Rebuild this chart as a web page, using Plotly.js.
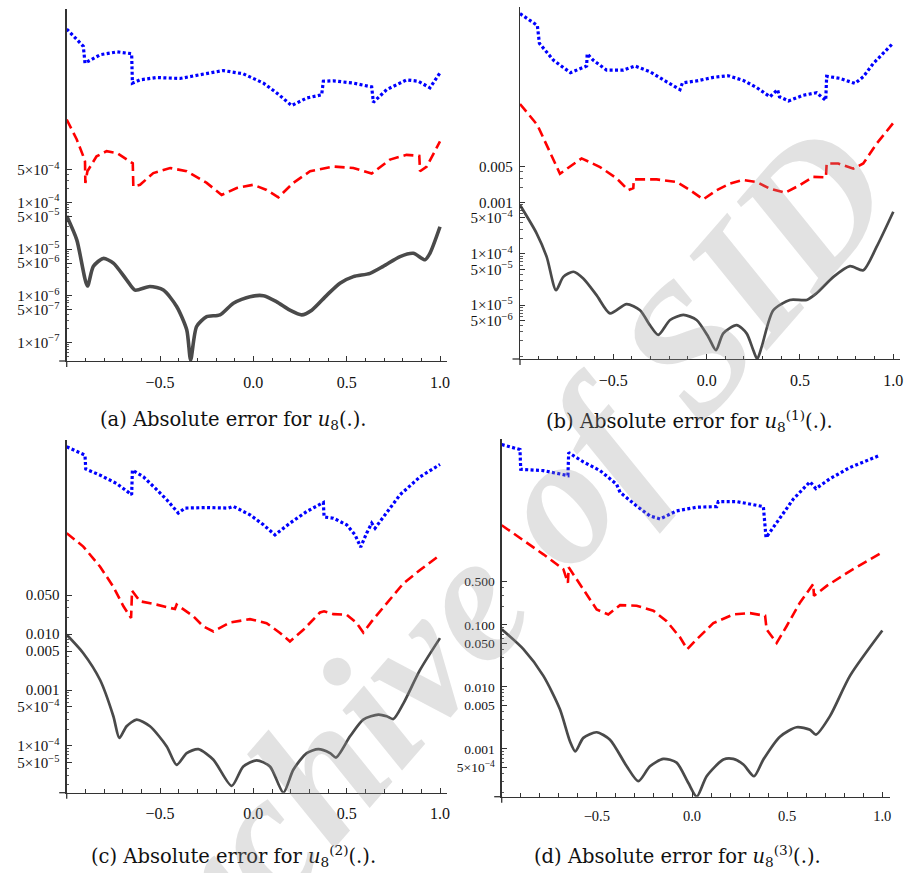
<!DOCTYPE html>
<html><head><meta charset="utf-8">
<script src="https://cdn.plot.ly/plotly-3.0.1.min.js"></script>
<style>html,body{margin:0;padding:0;background:#fff}#chart{width:904px;height:873px}</style>
</head><body><div id="chart"></div>
<script>
// ---------- Panel (a): absolute error for u8 ----------
const aBlueX = [-1,-0.911,-0.902,-0.889,-0.82,-0.73,-0.652,-0.648,-0.607,-0.518,-0.393,-0.286,-0.161,-0.054,0.054,0.125,0.205,0.286,0.366,0.375,0.429,0.536,0.634,0.643,0.714,0.821,0.884,0.946,1];
const aBlueY = [0.525,0.224,0.0977,0.105,0.148,0.170,0.155,0.0363,0.0427,0.0479,0.0457,0.0550,0.0676,0.0575,0.0363,0.0224,0.0120,0.0174,0.0204,0.0398,0.0407,0.0363,0.0302,0.0141,0.0263,0.0427,0.0398,0.0288,0.0603];
const aRedX = [-1,-0.946,-0.911,-0.902,-0.900,-0.889,-0.84,-0.786,-0.73,-0.646,-0.643,-0.607,-0.536,-0.446,-0.357,-0.25,-0.17,-0.089,0,0.071,0.134,0.214,0.304,0.429,0.536,0.634,0.732,0.821,0.889,0.893,0.929,1];
const aRedY = [6.03e-3,2.24e-3,9.77e-4,7.59e-4,2.63e-4,4.68e-4,9.77e-4,1.26e-3,1.15e-3,6.92e-4,2.19e-4,2.40e-4,4.27e-4,5.50e-4,4.68e-4,2.63e-4,1.45e-4,2.04e-4,2.40e-4,1.86e-4,1.29e-4,2.63e-4,4.68e-4,5.89e-4,5.50e-4,4.17e-4,8.32e-4,1.05e-3,1.00e-3,4.68e-4,5.89e-4,2.04e-3];
const aGrayX = [-1,-0.946,-0.889,-0.857,-0.804,-0.75,-0.679,-0.634,-0.554,-0.482,-0.411,-0.357,-0.336,-0.304,-0.25,-0.179,-0.107,-0.018,0.054,0.125,0.196,0.259,0.313,0.393,0.464,0.536,0.625,0.696,0.786,0.857,0.92,0.946,1];
const aGrayY = [5.13e-5,1.58e-5,1.62e-6,4.27e-6,6.31e-6,5.01e-6,2.19e-6,1.32e-6,1.58e-6,1.32e-6,5.89e-7,1.86e-7,4.17e-8,2.19e-7,3.55e-7,3.89e-7,6.92e-7,9.55e-7,1.00e-6,7.41e-7,4.90e-7,3.89e-7,4.90e-7,1.02e-6,1.86e-6,2.57e-6,3.02e-6,4.27e-6,6.92e-6,8.13e-6,5.89e-6,8.13e-6,3.02e-5];
const aTickVals = [1e-7,5e-7,1e-6,5e-6,1e-5,5e-5,1e-4,5e-4];
const aTickText = ["1×10<sup>−7</sup>","5×10<sup>−7</sup>","1×10<sup>−6</sup>","5×10<sup>−6</sup>","1×10<sup>−5</sup>","5×10<sup>−5</sup>","1×10<sup>−4</sup>","5×10<sup>−4</sup>"];

// ---------- Panel (b): absolute error for u8^(1) ----------
const bBlueX = [-1,-0.907,-0.896,-0.82,-0.73,-0.66,-0.643,-0.640,-0.607,-0.536,-0.446,-0.384,-0.304,-0.214,-0.143,-0.13,-0.054,0.036,0.116,0.196,0.268,0.339,0.38,0.39,0.438,0.518,0.589,0.638,0.643,0.714,0.795,0.839,0.893,1];
const bBlueY = [4.79,2.82,1.26,0.589,0.339,0.437,0.457,0.794,0.589,0.380,0.380,0.457,0.355,0.224,0.158,0.214,0.234,0.275,0.295,0.240,0.174,0.115,0.158,0.115,0.0955,0.123,0.138,0.0977,0.288,0.263,0.209,0.282,0.513,1.29];
const bRedX = [-1,-0.907,-0.786,-0.67,-0.571,-0.482,-0.42,-0.393,-0.39,-0.268,-0.161,-0.089,-0.018,0.054,0.125,0.196,0.268,0.339,0.42,0.5,0.571,0.639,0.643,0.705,0.786,0.839,0.911,1];
const bRedY = [8.32e-2,3.24e-2,3.63e-3,7.24e-3,4.90e-3,2.95e-3,1.74e-3,1.91e-3,2.82e-3,2.82e-3,2.51e-3,1.74e-3,1.15e-3,1.74e-3,2.34e-3,2.75e-3,2.51e-3,1.86e-3,1.55e-3,2.19e-3,3.16e-3,3.09e-3,5.75e-3,5.75e-3,4.57e-3,5.75e-3,1.41e-2,3.55e-2];
const bGrayX = [-1,-0.911,-0.857,-0.807,-0.768,-0.714,-0.661,-0.589,-0.518,-0.429,-0.357,-0.304,-0.259,-0.196,-0.125,-0.054,0.009,0.05,0.089,0.161,0.214,0.25,0.271,0.295,0.357,0.446,0.536,0.589,0.679,0.768,0.839,0.911,1];
const bGrayY = [8.91e-4,2.51e-4,8.71e-5,1.95e-5,3.55e-5,4.47e-5,3.31e-5,1.55e-5,6.92e-6,1.05e-5,7.94e-6,4.07e-6,2.63e-6,5.13e-6,6.46e-6,5.13e-6,2.40e-6,1.32e-6,2.82e-6,4.07e-6,2.82e-6,1.32e-6,8.91e-7,1.55e-6,7.94e-6,1.26e-5,1.26e-5,1.70e-5,3.55e-5,5.75e-5,4.79e-5,1.38e-4,6.61e-4];
const bTickVals = [5e-6,1e-5,5e-5,1e-4,5e-4,0.001,0.005];
const bTickText = ["5×10<sup>−6</sup>","1×10<sup>−5</sup>","5×10<sup>−5</sup>","1×10<sup>−4</sup>","5×10<sup>−4</sup>","0.001","0.005"];

// ---------- Panel (c): absolute error for u8^(2) ----------
const cBlueX = [-1,-0.902,-0.898,-0.821,-0.732,-0.652,-0.648,-0.589,-0.518,-0.464,-0.402,-0.366,-0.25,-0.134,-0.107,-0.018,0.054,0.116,0.196,0.286,0.375,0.379,0.429,0.5,0.545,0.575,0.607,0.634,0.652,0.714,0.786,0.893,1];
const cBlueY = [22.9,16.2,9.12,7.08,5.01,3.16,8.71,6.61,3.89,2.57,1.48,1.82,1.86,1.82,1.95,1.38,0.912,0.603,0.977,1.58,2.29,1.26,1.20,0.912,0.603,0.363,0.646,0.977,0.794,1.48,3.16,6.61,11.0];
const cRedX = [-1,-0.911,-0.821,-0.75,-0.696,-0.655,-0.650,-0.607,-0.518,-0.42,-0.411,-0.321,-0.268,-0.214,-0.125,-0.018,0.071,0.143,0.196,0.268,0.357,0.379,0.429,0.5,0.554,0.589,0.634,0.714,0.804,0.893,1];
const cRedY = [0.646,0.372,0.162,7.08e-2,3.16e-2,1.95e-2,6.03e-2,3.89e-2,3.39e-2,2.82e-2,3.39e-2,2.09e-2,1.38e-2,1.12e-2,1.62e-2,1.86e-2,1.58e-2,1.05e-2,7.41e-3,1.20e-2,2.45e-2,2.57e-2,2.29e-2,2.24e-2,1.58e-2,1.07e-2,1.70e-2,3.63e-2,8.13e-2,0.141,0.263];
const cGrayX = [-1,-0.911,-0.821,-0.75,-0.718,-0.679,-0.625,-0.554,-0.464,-0.411,-0.357,-0.295,-0.214,-0.116,-0.054,0.018,0.089,0.161,0.214,0.286,0.348,0.411,0.443,0.518,0.589,0.67,0.714,0.75,0.804,0.893,1];
const cGrayY = [9.77e-3,4.57e-3,1.51e-3,3.39e-4,1.38e-4,2.24e-4,2.95e-4,2.24e-4,9.77e-5,4.57e-5,7.41e-5,8.71e-5,5.62e-5,1.91e-5,4.27e-5,5.50e-5,4.27e-5,1.45e-5,3.72e-5,7.41e-5,8.71e-5,7.41e-5,6.17e-5,1.48e-4,2.95e-4,3.63e-4,3.39e-4,3.02e-4,5.75e-4,2.29e-3,8.51e-3];
const cTickVals = [5e-5,1e-4,5e-4,0.001,0.005,0.010,0.050];
const cTickText = ["5×10<sup>−5</sup>","1×10<sup>−4</sup>","5×10<sup>−4</sup>","0.001","0.005","0.010","0.050"];

// ---------- Panel (d): absolute error for u8^(3) ----------
const dBlueX = [-1,-0.904,-0.900,-0.781,-0.652,-0.648,-0.571,-0.483,-0.396,-0.378,-0.291,-0.221,-0.168,-0.081,0.025,0.13,0.138,0.235,0.375,0.389,0.445,0.532,0.62,0.651,0.725,0.83,0.982];
const dBlueY = [81.3,67.6,32.4,30.9,25.7,60.3,42.7,30.9,18.6,13.8,8.32,5.75,5.13,6.92,7.94,8.13,9.77,9.77,8.13,2.57,4.47,10.7,20.4,15.8,22.9,34.7,53.7];
const dRedX = [-1,-0.904,-0.781,-0.676,-0.652,-0.648,-0.571,-0.501,-0.44,-0.378,-0.291,-0.203,-0.133,-0.063,-0.025,0.025,0.112,0.217,0.305,0.384,0.392,0.445,0.497,0.567,0.637,0.641,0.708,0.83,1];
const dRedY = [4.07,2.57,1.38,0.794,0.479,0.851,0.380,0.178,0.148,0.209,0.204,0.170,0.115,0.0631,0.0407,0.0589,0.107,0.148,0.155,0.141,0.0851,0.0513,0.0955,0.229,0.457,0.295,0.427,0.741,1.48];
const dGrayX = [-1,-0.886,-0.781,-0.694,-0.641,-0.613,-0.571,-0.501,-0.431,-0.343,-0.282,-0.221,-0.151,-0.081,-0.019,0.025,0.077,0.165,0.217,0.27,0.326,0.375,0.462,0.55,0.62,0.651,0.725,0.83,1];
const dGrayY = [8.51e-2,4.07e-2,1.51e-2,4.37e-3,1.32e-3,9.12e-4,1.51e-3,1.86e-3,1.41e-3,5.25e-4,3.02e-4,5.25e-4,6.92e-4,6.03e-4,2.82e-4,1.70e-4,3.63e-4,6.76e-4,6.92e-4,5.62e-4,3.63e-4,6.76e-4,1.58e-3,2.24e-3,2.04e-3,1.70e-3,3.39e-3,1.51e-2,8.13e-2];
const dTickVals = [5e-4,0.001,0.005,0.010,0.050,0.100,0.500];
const dTickText = ["5×10<sup>−4</sup>","0.001","0.005","0.010","0.050","0.100","0.500"];

const xTickVals = [-0.5,0,0.5,1];
const xTickText = ["−0.5","0.0","0.5","1.0"];

const captions = [
  "(a) Absolute error for <i>u</i><sub>8</sub>(.).",
  "(b) Absolute error for <i>u</i><sub>8</sub><sup>(1)</sup>(.).",
  "(c) Absolute error for <i>u</i><sub>8</sub><sup>(2)</sup>(.).",
  "(d) Absolute error for <i>u</i><sub>8</sub><sup>(3)</sup>(.)."
];
const watermark = "Archive of SID";

// ---------- layout geometry (pixels) ----------
const W = 904, H = 873;
const px = v => v / W, py = v => 1 - v / H;
const panels = [
  {bx:aBlueX,by:aBlueY,rx:aRedX,ry:aRedY,gx:aGrayX,gy:aGrayY,tv:aTickVals,tt:aTickText,
   xl:66.7,x1:440,xr:447,yt:9,yb:361,yr:[-7.40,0.15],fs:15,xfs:16,gw:3.6,cap:[233,420]},
  {bx:bBlueX,by:bBlueY,rx:bRedX,ry:bRedY,gx:bGrayX,gy:bGrayY,tv:bTickVals,tt:bTickText,
   xl:520,x1:893.3,xr:900,yt:7,yb:359,yr:[-6.05,0.81],fs:15,xfs:16,gw:2.7,cap:[689,421]},
  {bx:cBlueX,by:cBlueY,rx:cRedX,ry:cRedY,gx:cGrayX,gy:cGrayY,tv:cTickVals,tt:cTickText,
   xl:66.7,x1:440,xr:447,yt:440,yb:792.7,yr:[-4.84,1.48],fs:15,xfs:16,gw:2.7,cap:[233,856]},
  {bx:dBlueX,by:dBlueY,rx:dRedX,ry:dRedY,gx:dGrayX,gy:dGrayY,tv:dTickVals,tt:dTickText,
   xl:501.7,x1:882.3,xr:890,yt:439,yb:796.7,yr:[-3.77,2.00],fs:13.5,xfs:14.5,gw:2.7,cap:[677,856]}
];

function minorVals(lo, maxMajor, majors){
  const out = [];
  for (let d = Math.floor(lo); d <= Math.ceil(Math.log10(maxMajor)); d++){
    for (let m = 1; m <= 9; m++){
      const v = m * Math.pow(10, d);
      if (Math.log10(v) < lo || v > maxMajor * 1.0001) continue;
      if (majors.some(t => Math.abs(t - v) / v < 1e-6)) continue;
      out.push(v);
    }
  }
  return out;
}

const traces = [], layout = {
  width: W, height: H, margin:{l:0,r:0,t:0,b:0},
  paper_bgcolor:'#fff', plot_bgcolor:'rgba(0,0,0,0)', showlegend:false,
  font:{family:'Liberation Serif, Times New Roman, serif', color:'#000'},
  shapes:[], annotations:[]
};

panels.forEach((p, i) => {
  const n = i === 0 ? '' : String(i + 1);
  const xa = 'x' + n, ya = 'y' + n;
  const unit = (p.x1 - p.xl) / 2;
  layout['xaxis' + n] = {
    domain:[px(p.xl), px(p.xr)], range:[-1, 1 + (p.xr - p.x1) / unit], anchor:ya,
    showgrid:false, zeroline:false, showline:true, linecolor:'#333', linewidth:1.3,
    tickmode:'array', tickvals:xTickVals, ticktext:xTickText, ticks:'inside', ticklen:5, tickwidth:1, tickcolor:'#333',
    ticklabelstandoff:6, tickfont:{size:p.xfs, family:'Liberation Serif', color:'#111'},
    minor:{tickmode:'array', tickvals:[-0.9,-0.8,-0.7,-0.6,-0.4,-0.3,-0.2,-0.1,0.1,0.2,0.3,0.4,0.6,0.7,0.8,0.9], ticks:'inside', ticklen:3.5, tickwidth:1, tickcolor:'#333', showgrid:false},
    fixedrange:true
  };
  layout['yaxis' + n] = {
    domain:[py(p.yb), py(p.yt)], type:'log', range:p.yr, anchor:xa,
    showgrid:false, zeroline:false, showline:true, linecolor:'#333', linewidth:1.3,
    tickmode:'array', tickvals:p.tv, ticktext:p.tt, ticks:'inside', ticklen:5, tickwidth:1, tickcolor:'#333',
    ticklabelstandoff:3, tickfont:{size:p.fs, family:'Liberation Serif', color:'#111'},
    minor:{tickmode:'array', tickvals:minorVals(p.yr[0], p.tv[p.tv.length - 1], p.tv), ticks:'inside', ticklen:2.5, tickwidth:0.8, tickcolor:'#333', showgrid:false},
    fixedrange:true
  };
  traces.push({x:p.bx, y:p.by, xaxis:xa, yaxis:ya, mode:'lines', line:{color:'#0000ff', width:3.2, dash:'3px,2.4px'}, hoverinfo:'skip'});
  traces.push({x:p.rx, y:p.ry, xaxis:xa, yaxis:ya, mode:'lines', line:{color:'#ff0000', width:2.6, dash:'10px,5px'}, hoverinfo:'skip'});
  traces.push({x:p.gx, y:p.gy, xaxis:xa, yaxis:ya, mode:'lines', line:{color:'#4a4a4a', width:p.gw, shape:'spline', smoothing:0.7}, hoverinfo:'skip'});
  // small axis-line extensions past the crossing point
  layout.shapes.push({type:'line', xref:'paper', yref:'paper', x0:px(p.xl - 7.5), x1:px(p.xl), y0:py(p.yb), y1:py(p.yb), line:{color:'#333', width:1.3}});
  layout.shapes.push({type:'line', xref:'paper', yref:'paper', x0:px(p.xl), x1:px(p.xl), y0:py(p.yb), y1:py(p.yb + 6), line:{color:'#333', width:1.3}});
  layout.annotations.push({xref:'paper', yref:'paper', x:px(p.cap[0]), y:py(p.cap[1]), xanchor:'center', yanchor:'middle',
    text:captions[i], showarrow:false, font:{family:'DejaVu Serif', size:19.5, color:'#111'}});
});

// watermark
layout.annotations.push({xref:'paper', yref:'paper', x:px(476), y:py(591), xanchor:'center', yanchor:'middle',
  text:watermark, showarrow:false, textangle:-49,
  font:{family:'Liberation Serif', size:184, color:'rgba(150,150,150,0.28)', weight:'bold', style:'italic'}});

Plotly.newPlot('chart', traces, layout, {staticPlot:true, displayModeBar:false});
</script></body></html>
